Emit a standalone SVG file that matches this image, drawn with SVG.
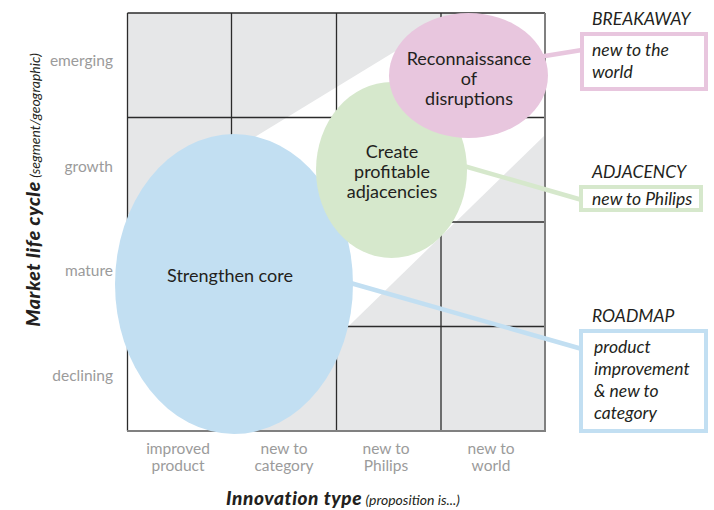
<svg xmlns="http://www.w3.org/2000/svg" width="714" height="510" viewBox="0 0 714 510">
<style>
.lbl{font-family:Lato,"Open Sans","Liberation Sans",sans-serif;font-size:15.5px;fill:#9b9b9b}
.ax{font-family:Lato,"Open Sans","Liberation Sans",sans-serif;fill:#231f20}
.el{font-family:Lato,"Open Sans","Liberation Sans",sans-serif;font-size:18px;fill:#231f20;text-anchor:middle}
.hd{font-family:Lato,"Open Sans","Liberation Sans",sans-serif;font-size:17.5px;font-style:italic;fill:#231f20}
.bx{font-family:Lato,"Open Sans","Liberation Sans",sans-serif;font-size:17.5px;font-style:italic;fill:#231f20}
.g{stroke:#2b2b2b;stroke-width:1.3;fill:none}
.conn{stroke-width:4.5;fill:none}
</style>
<rect width="714" height="510" fill="#ffffff"/>
<g id="grid">
<rect x="127.5" y="13" width="417.5" height="418" fill="#e6e7e8"/>
<polygon points="127,215 458,13 545,13 545,135 241,431 127,431" fill="#ffffff"/>
<line class="g" x1="231.5" y1="13" x2="231.5" y2="431"/>
<line class="g" x1="336.5" y1="13" x2="336.5" y2="431"/>
<line class="g" x1="441" y1="13" x2="441" y2="431"/>
<line class="g" x1="127.5" y1="117.5" x2="545" y2="117.5"/>
<line class="g" x1="127.5" y1="222" x2="545" y2="222"/>
<line class="g" x1="127.5" y1="326.5" x2="545" y2="326.5"/>
<line class="g" x1="127.5" y1="13" x2="545" y2="13"/>
<line class="g" x1="127.5" y1="13" x2="127.5" y2="431"/>
<line x1="545" y1="13" x2="545" y2="431" stroke="#808080" stroke-width="2"/>
<line x1="127" y1="431" x2="546" y2="431" stroke="#808080" stroke-width="2"/>
</g>
<g id="connectors">
<line class="conn" stroke="#e8c6de" x1="520" y1="60" x2="582" y2="50"/>
<line class="conn" stroke="#d6e8cc" x1="450" y1="162" x2="582" y2="200"/>
<line class="conn" stroke="#c2dff2" x1="340" y1="280" x2="582" y2="349"/>
</g>
<g id="strengthen-core">
<ellipse cx="234" cy="284" rx="119" ry="150" fill="#c2dff2"/>
<text class="el" x="230" y="282">Strengthen core</text>
</g>
<g id="create-adjacencies">
<ellipse cx="391.5" cy="170" rx="75.5" ry="88" fill="#d6e8cc"/>
<text class="el" x="392" y="158">Create</text>
<text class="el" x="392" y="178">profitable</text>
<text class="el" x="392" y="198">adjacencies</text>
</g>
<g id="reconnaissance">
<ellipse cx="468.5" cy="75.5" rx="79.5" ry="62.5" fill="#e8c6de"/>
<text class="el" x="469" y="65">Reconnaissance</text>
<text class="el" x="469" y="85">of</text>
<text class="el" x="469" y="105">disruptions</text>
</g>
<g id="breakaway">
<text class="hd" x="592" y="25">BREAKAWAY</text>
<rect x="582" y="34" width="124" height="55" fill="#ffffff" stroke="#e8c6de" stroke-width="4"/>
<text class="bx" x="592" y="56">new to the</text>
<text class="bx" x="592" y="78">world</text>
</g>
<g id="adjacency">
<text class="hd" x="592" y="178">ADJACENCY</text>
<rect x="581" y="187" width="120" height="23" fill="#ffffff" stroke="#d6e8cc" stroke-width="4"/>
<text class="bx" x="592" y="205">new to Philips</text>
</g>
<g id="roadmap">
<text class="hd" x="592" y="322">ROADMAP</text>
<rect x="581" y="331" width="125" height="100" fill="#ffffff" stroke="#c2dff2" stroke-width="4"/>
<text class="bx" x="594" y="353">product</text>
<text class="bx" x="594" y="375">improvement</text>
<text class="bx" x="594" y="397">&amp; new to</text>
<text class="bx" x="594" y="419">category</text>
</g>
<g id="row-labels" text-anchor="end">
<text class="lbl" x="113" y="66">emerging</text>
<text class="lbl" x="113" y="172">growth</text>
<text class="lbl" x="113" y="276">mature</text>
<text class="lbl" x="113" y="381">declining</text>
</g>
<g id="col-labels" text-anchor="middle">
<text class="lbl" x="178" y="454">improved</text>
<text class="lbl" x="178" y="471">product</text>
<text class="lbl" x="284" y="454">new to</text>
<text class="lbl" x="284" y="471">category</text>
<text class="lbl" x="386" y="454">new to</text>
<text class="lbl" x="386" y="471">Philips</text>
<text class="lbl" x="491" y="454">new to</text>
<text class="lbl" x="491" y="471">world</text>
</g>
<g id="axis-titles">
<text class="ax" x="343" y="505" text-anchor="middle"><tspan font-size="19" font-weight="900" font-style="italic" letter-spacing="0.6">Innovation type</tspan><tspan font-size="14" font-style="italic"> (proposition is...)</tspan></text>
<text class="ax" transform="translate(40,190) rotate(-90)" text-anchor="middle"><tspan font-size="19.5" font-weight="900" font-style="italic" letter-spacing="0.6">Market life cycle</tspan><tspan font-size="14" font-style="italic"> (segment/geographic)</tspan></text>
</g>
</svg>
